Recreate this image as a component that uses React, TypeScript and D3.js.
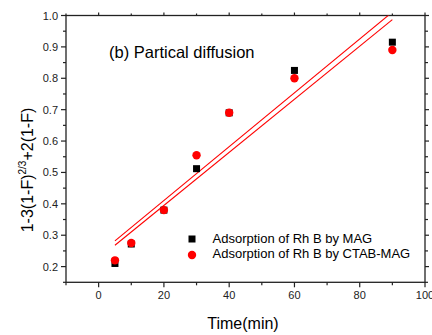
import React from "react";
import * as d3 from "d3";

const times = [5, 10, 20, 30, 40, 60, 90];
const magValues = [0.21, 0.272, 0.38, 0.512, 0.69, 0.825, 0.915];
const ctabValues = [0.22, 0.275, 0.38, 0.555, 0.69, 0.80, 0.89];
const fitA = [{ x: 5, y: 0.282 }, { x: 90, y: 1.011 }];
const fitB = [{ x: 5, y: 0.268 }, { x: 90, y: 0.987 }];
const xTicks = [0, 20, 40, 60, 80, 100];
const xMinor = [-10, 10, 30, 50, 70, 90];
const yTicks = [0.2, 0.3, 0.4, 0.5, 0.6, 0.7, 0.8, 0.9, 1.0];
const yMinor = [0.15, 0.25, 0.35, 0.45, 0.55, 0.65, 0.75, 0.85, 0.95];
const legendLabels = ["Adsorption of Rh B by MAG", "Adsorption of Rh B by CTAB-MAG"];

const W = 432, H = 335;
const L = 66, R = 425, T = 15.5, B = 282.3;
const FONT = "Arial, 'Liberation Sans', sans-serif";

export default function App() {
  const x = d3.scaleLinear().domain([-10, 100]).range([L, R]);
  const y = d3.scaleLinear().domain([0.15, 1.0]).range([B, T]);
  const line = d3.line<{ x: number; y: number }>().x(d => x(d.x)).y(d => y(d.y));
  const fmt = d3.format(".1f");
  return (
    <svg width={W} height={H} style={{ position: "absolute", left: 0, top: 0, background: "#fff" }} fontFamily={FONT}>
      <defs>
        <clipPath id="clip"><rect x={L} y={T} width={R - L} height={B - T} /></clipPath>
      </defs>
      <rect x={L} y={T} width={R - L} height={B - T} fill="none" stroke="#222" strokeWidth={1.3} />
      {xTicks.map(t => (
        <g key={"xb" + t}>
          <line x1={x(t)} x2={x(t)} y1={B} y2={B + 5} stroke="#222" strokeWidth={1.2} />
          <line x1={x(t)} x2={x(t)} y1={T} y2={T - 3} stroke="#222" strokeWidth={1.2} />
          <text x={x(t)} y={299} fontSize={11} textAnchor="middle" fill="#222">{t}</text>
        </g>
      ))}
      {xMinor.map(t => (
        <g key={"xm" + t}>
          <line x1={x(t)} x2={x(t)} y1={B} y2={B + 3} stroke="#222" strokeWidth={1.2} />
          <line x1={x(t)} x2={x(t)} y1={T} y2={T - 2} stroke="#222" strokeWidth={1.2} />
        </g>
      ))}
      {yTicks.map(t => (
        <g key={"yl" + t}>
          <line x1={L} x2={L - 5} y1={y(t)} y2={y(t)} stroke="#222" strokeWidth={1.2} />
          <line x1={R} x2={R + 4} y1={y(t)} y2={y(t)} stroke="#222" strokeWidth={1.2} />
          <text x={58} y={y(t) + 4} fontSize={11} textAnchor="end" fill="#222">{fmt(t)}</text>
        </g>
      ))}
      {yMinor.map(t => (
        <g key={"ym" + t}>
          <line x1={L} x2={L - 3} y1={y(t)} y2={y(t)} stroke="#222" strokeWidth={1.2} />
          <line x1={R} x2={R + 3} y1={y(t)} y2={y(t)} stroke="#222" strokeWidth={1.2} />
        </g>
      ))}
      <g clipPath="url(#clip)">
        <path d={line(fitA) || ""} fill="none" stroke="#ff0000" strokeWidth={1.1} />
        <path d={line(fitB) || ""} fill="none" stroke="#ff0000" strokeWidth={1.1} />
      </g>
      {times.map((t, i) => (
        <rect key={"s" + t} x={x(t) - 3.5} y={y(magValues[i]) - 3.5} width={7} height={7} fill="#000" />
      ))}
      {times.map((t, i) => (
        <circle key={"c" + t} cx={x(t)} cy={y(ctabValues[i])} r={4.2} fill="#ff0000" />
      ))}
      <text x={109} y={58} fontSize={16.5} fill="#000">(b) Partical diffusion</text>
      <rect x={188.5} y={235.5} width={7} height={7} fill="#000" />
      <circle cx={192} cy={255} r={4.2} fill="#ff0000" />
      <text x={212.5} y={243} fontSize={13} fill="#000">{legendLabels[0]}</text>
      <text x={212.5} y={258} fontSize={13} fill="#000">{legendLabels[1]}</text>
      <text x={243} y={329} fontSize={16} textAnchor="middle" fill="#000">Time(min)</text>
      <text transform="translate(32.5,170) rotate(-90)" fontSize={16} textAnchor="middle" fill="#000">
        1-3(1-F)<tspan fontSize={10} dy={-7}>2/3</tspan><tspan dy={7}>+2(1-F)</tspan>
      </text>
    </svg>
  );
}
